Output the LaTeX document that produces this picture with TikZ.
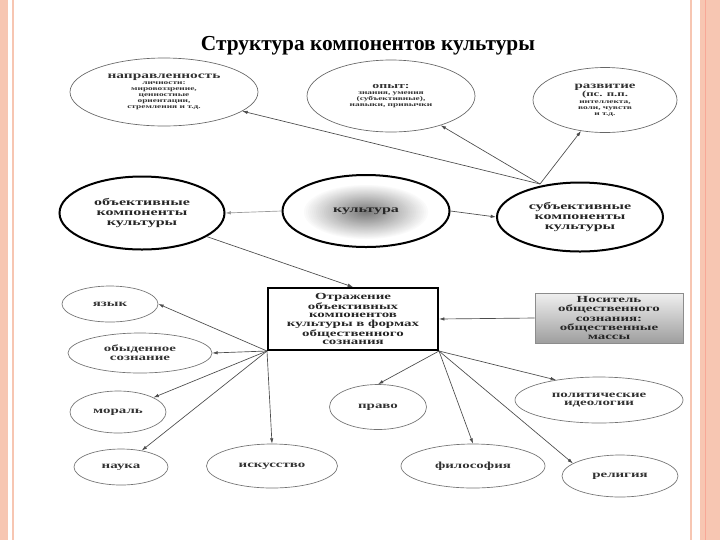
\documentclass[tikz,border=0pt]{standalone}
\usepackage{fontspec}
\setmainfont{Liberation Serif}
\newfontfamily\wf[FakeStretch=1.6]{Liberation Serif}
\usetikzlibrary{shapes.geometric,arrows.meta}
\definecolor{pinkb}{RGB}{247,198,178}
\begin{document}
\begin{tikzpicture}[x=0.75pt,y=-0.75pt,
  sz/.style 2 args={minimum width=#1*0.75pt, minimum height=#2*0.75pt},
  thinell/.style={ellipse, draw=black!55, line width=0.5pt, inner sep=0pt, align=center,
     font=\wf\bfseries\fontsize{7}{6.5}\selectfont, text=black!80},
  topell/.style={ellipse, draw=black!60, line width=0.5pt, inner sep=0pt, align=center,
     font=\wf\bfseries\fontsize{4.4}{4.6}\selectfont, text=black!80},
  thickell/.style={ellipse, draw=black, line width=1.5pt, inner sep=0pt, align=center,
     font=\wf\bfseries\fontsize{7.5}{7.5}\selectfont, text=black!85},
  arr/.style={-{Latex[length=4pt,width=2.6pt]}, draw=black!70, line width=0.5pt}]
\useasboundingbox (0,0) rectangle (720,540);
\fill[white] (0,0) rectangle (720,540);
% slide border
\fill[pinkb] (0,0) rectangle (8,540);
\draw[pinkb, line width=0.8pt] (13,0) -- (13,540);
\draw[pinkb, line width=0.8pt] (691,0) -- (691,540);
\fill[pinkb] (700,0) rectangle (720,540);
\draw[pinkb!85!red, line width=0.6pt] (705,0) -- (705,540);

% title
\node[font=\bfseries\fontsize{16}{16}\selectfont] (title) at (368,46) {Структура компонентов культуры};

% top ellipses
\node[topell, sz={188}{68}] (napr) at (164,92)
  {{\fontsize{7.2}{7.5}\selectfont направленность}\\личности:\\мировоззрение,\\ценностные\\ориентации,\\стремления и т.д.};
\node[topell, sz={168}{72}] (opyt) at (391,96)
  {{\fontsize{6.5}{7}\selectfont опыт:}\\знания, умения\\(субъективные),\\навыки, привычки};
\node[topell, sz={144}{65}] (razv) at (605,100)
  {{\fontsize{7}{7.5}\selectfont развитие}\\{\fontsize{6}{6.5}\selectfont (пс. п.п.}\\интеллекта,\\воли, чувств\\и т.д.};

% middle row
\foreach \i in {0,...,30} {
  \pgfmathsetmacro\f{1-\i/31}
  \pgfmathsetmacro\k{2+50*(\i/30)}
  \fill[black!\k] (366,212) ellipse [x radius=62*\f, y radius=27*\f];
}
\node[thickell, sz={167}{72}] (kult) at (366,211) {культура};
\node[thickell, sz={165}{73}] (obj) at (142,213) {объективные\\компоненты\\культуры};
\node[thickell, sz={166}{69}] (subj) at (580,217) {субъективные\\компоненты\\культуры};

% boxes
\node[draw=black, line width=1.5pt, sz={170}{62}, inner sep=0pt, align=center,
  font=\wf\bfseries\fontsize{7}{6.3}\selectfont, text=black!85] (box) at (353,319)
  {Отражение\\объективных\\компонентов\\культуры в формах\\общественного\\сознания};
\node[draw=black!45, line width=0.5pt, top color=black!6, bottom color=black!38,
  sz={148}{50}, inner sep=0pt, align=center,
  font=\wf\bfseries\fontsize{7}{6.8}\selectfont, text=black!85] (nos) at (609,318)
  {Носитель\\общественного\\сознания:\\общественные\\массы};

% lower ellipses
\node[thinell, sz={96}{36}] (lang) at (110,304) {язык};
\node[thinell, sz={144}{40}] (ord) at (140,353) {обыденное\\сознание};
\node[thinell, sz={96}{42}] (mor) at (118,412) {мораль};
\node[thinell, sz={94}{36}] (nauka) at (121,467) {наука};
\node[thinell, sz={131}{44}] (isk) at (272,466) {искусство};
\node[thinell, sz={97}{45}] (pravo) at (378,407) {право};
\node[thinell, sz={144}{44}] (fil) at (473,466) {философия};
\node[thinell, sz={168}{46}] (pol) at (599,400) {политические\\идеологии};
\node[thinell, sz={116}{42}] (rel) at (620,476) {религия};

% connectors
\coordinate (sj) at (540,184);
\draw[arr] (kult.east) -- (subj.west);
\draw[arr, draw=black!40] (kult.west) -- (obj.east);
\draw[arr] (sj) -- (napr);
\draw[arr] (sj) -- (opyt);
\draw[arr] (sj) -- (razv);
\draw[arr] (obj.-20) -- (box.north);
\draw[arr] (nos.west) -- (box.east);

\draw[arr] (box.south west) -- (lang.east);
\draw[arr] (box.south west) -- (ord.east);
\draw[arr] (box.south west) -- (mor);
\draw[arr] (box.south west) -- (nauka);
\draw[arr] (box.south west) -- (isk.north);

\draw[arr] (box.south east) -- (pravo.north);
\draw[arr] (box.south east) -- (pol.155);
\draw[arr] (box.south east) -- (fil.north);
\draw[arr] (box.south east) -- (rel.165);
\end{tikzpicture}
\end{document}
